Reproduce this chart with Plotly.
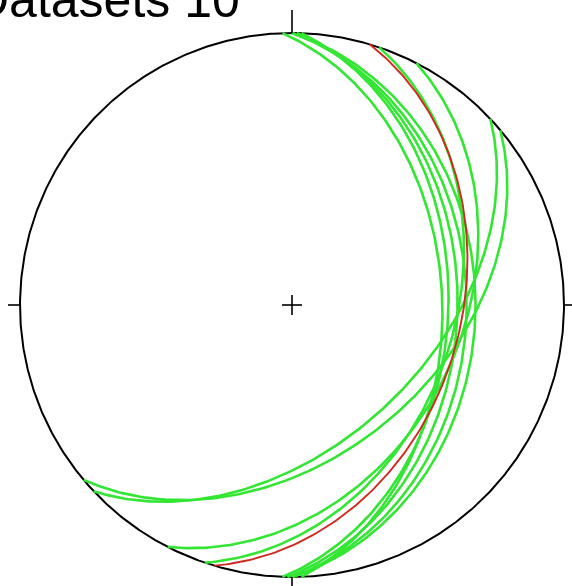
import numpy as np
import plotly.graph_objects as go

# Great-circle data (strike / dip, right-hand rule)
green_strikes = [0, 0, 1, 2, 358, 18.7, 27.2, 46.8, 50.0]
green_dips = [33, 36, 39, 42, 44, 40, 38, 48, 44]
red_strikes = [16.6]
red_dips = [38]
title_text = "Datasets 10"

CX, CY, R = 292.0, 305.0, 272.0
W, H = 572, 586


def great_circle(strike, dip, n=181):
    s = np.radians(strike)
    d = np.radians(dip)
    S = np.array([np.sin(s), np.cos(s), 0.0])
    dd = s + np.pi / 2
    D = np.array([np.sin(dd) * np.cos(d), np.cos(dd) * np.cos(d), -np.sin(d)])
    t = np.linspace(0, np.pi, n)
    P = np.outer(np.cos(t), S) + np.outer(np.sin(t), D)
    pz = np.clip(-P[:, 2], -1, 1)
    plunge = np.arcsin(pz)
    trend = np.arctan2(P[:, 0], P[:, 1])
    r = np.sqrt(2) * np.sin((np.pi / 2 - plunge) / 2)
    return r * np.sin(trend), r * np.cos(trend)


fig = go.Figure()

# primitive circle
th = np.linspace(0, 2 * np.pi, 721)
fig.add_trace(go.Scatter(x=np.cos(th), y=np.sin(th), mode="lines",
                         line=dict(color="black", width=2), hoverinfo="skip"))

for s, d in zip(green_strikes, green_dips):
    x, y = great_circle(s, d)
    fig.add_trace(go.Scatter(x=x, y=y, mode="lines",
                             line=dict(color="#33e633", width=2.6), hoverinfo="skip"))
for s, d in zip(red_strikes, red_dips):
    x, y = great_circle(s, d)
    fig.add_trace(go.Scatter(x=x, y=y, mode="lines",
                             line=dict(color="#d02a20", width=1.9), hoverinfo="skip"))

# ticks at N, E, S, W and centre cross
c = 10 / R
shapes = [
    dict(type="line", x0=0, y0=1, x1=0, y1=1 + 23 / R),
    dict(type="line", x0=0, y0=-1, x1=0, y1=-1 - 14 / R),
    dict(type="line", x0=1, y0=0, x1=1 + 14 / R, y1=0),
    dict(type="line", x0=-1, y0=0, x1=-1 - 12 / R, y1=0),
    dict(type="line", x0=-c, y0=0, x1=c, y1=0),
    dict(type="line", x0=0, y0=-c, x1=0, y1=c),
]
for sh in shapes:
    sh.update(xref="x", yref="y", line=dict(color="black", width=1.6))

x0 = -CX / R
x1 = (W - CX) / R
y0 = (CY - H) / R
y1 = CY / R

fig.update_layout(
    width=W, height=H,
    margin=dict(l=0, r=0, t=0, b=0),
    paper_bgcolor="white", plot_bgcolor="white",
    showlegend=False,
    shapes=shapes,
    xaxis=dict(range=[x0, x1], visible=False, fixedrange=True),
    yaxis=dict(range=[y0, y1], visible=False, fixedrange=True),
    annotations=[dict(text=title_text, xref="paper", yref="paper",
                      x=242 / W, y=1 + 30 / H, xanchor="right", yanchor="top",
                      showarrow=False,
                      font=dict(family="Liberation Sans, Arial", size=50, color="black"))],
)

fig.write_html("out.html")
